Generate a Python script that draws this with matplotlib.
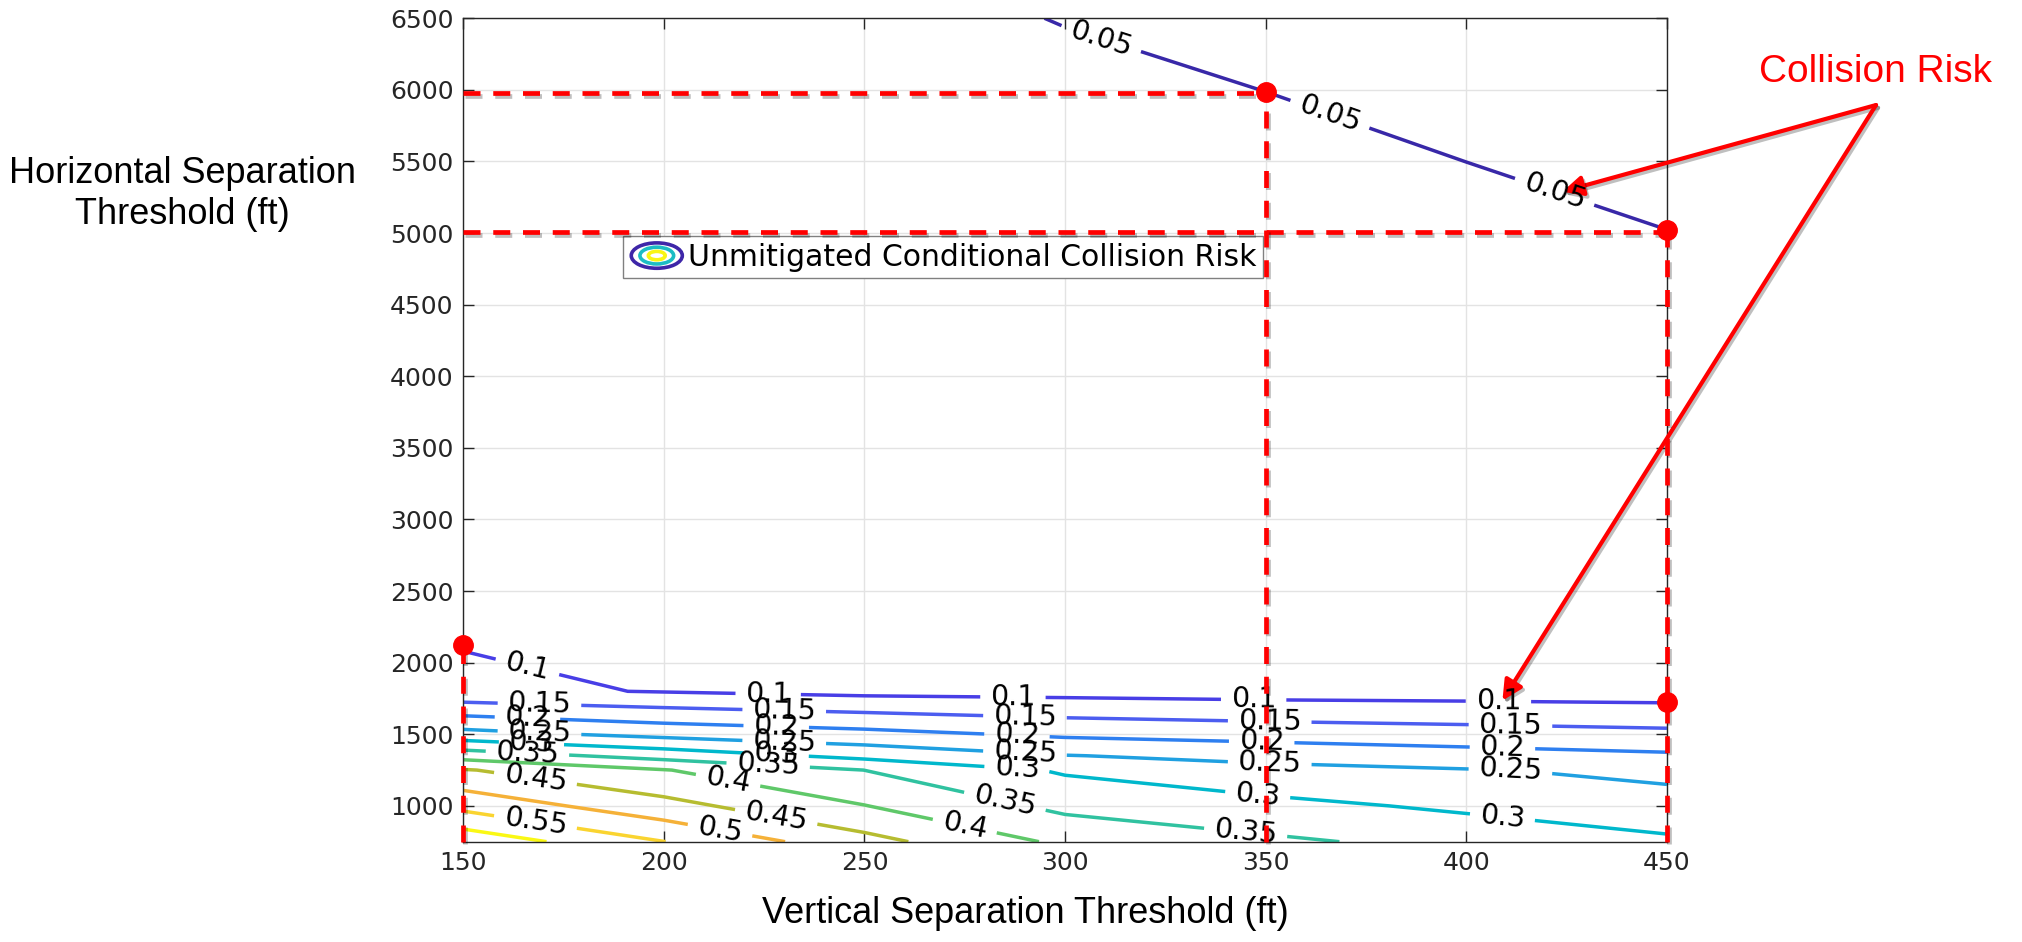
import numpy as np
import matplotlib
matplotlib.use("Agg")
import matplotlib.pyplot as plt
import matplotlib.patheffects as pe
from matplotlib.colors import LinearSegmentedColormap
from matplotlib.legend_handler import HandlerBase
from matplotlib.patches import Ellipse
from matplotlib.lines import Line2D

# vertical separation threshold (ft) - grid columns
vert_sep = np.array([150, 200, 250, 300, 350, 400, 450])
# horizontal separation threshold (ft) - grid rows
horiz_sep = np.array([750, 1000, 1250, 1350, 1500, 1800, 2100, 6500])
# unmitigated conditional collision risk, one row per horiz_sep value
risk = np.array([
    [0.6350, 0.5507, 0.4668, 0.3900, 0.3590, 0.3345, 0.3102],
    [0.5355, 0.4663, 0.4013, 0.3374, 0.3149, 0.2907, 0.2623],
    [0.4535, 0.4021, 0.3497, 0.2937, 0.2626, 0.2526, 0.2418],
    [0.3793, 0.3305, 0.2852, 0.2517, 0.2360, 0.2204, 0.2075],
    [0.2680, 0.2355, 0.2154, 0.1911, 0.1796, 0.1706, 0.1619],
    [0.1100, 0.0978, 0.0865, 0.0843, 0.0803, 0.0792, 0.0774],
    [0.0993, 0.0930, 0.0800, 0.0780, 0.0750, 0.0730, 0.0710],
    [0.0660, 0.0600, 0.0535, 0.0496, 0.0467, 0.0432, 0.0394],
])
levels = [0.05, 0.1, 0.15, 0.2, 0.25, 0.3, 0.35, 0.4, 0.45, 0.5, 0.55, 0.6]

# where the contour labels sit along each line (x in ft)
label_x = {
    0.05: [309, 366, 422],
    0.1: [166, 226, 287, 347, 408],
    0.15: [169, 230, 290, 351, 411],
    0.2: [166, 228, 288, 349, 409],
    0.25: [169, 230, 290, 351, 411],
    0.3: [167, 228, 288, 348, 409],
    0.35: [166, 226, 285, 345],
    0.4: [216, 275],
    0.45: [168, 228],
    0.5: [214],
    0.55: [168],
}

# highlighted operating points and guide lines
point_x = [150, 350, 450, 450]
point_y = [2120, 5985, 5020, 1725]
hline_y = [5975, 5005]
hline_x_end = [350, 450]
vline_x = [150, 350, 450]
vline_y_top = [2120, 5975, 5005]
arrow_x = [424, 409]
arrow_y = [5290, 1735]

parula_like = ['#3828a8', '#483ee6', '#4c5ef0', '#2d80f0', '#20a0e1', '#00b8cc',
               '#30c2a0', '#60c868', '#b4bc30', '#f5b038', '#fad430', '#faf814']
cmap = LinearSegmentedColormap.from_list('parula_like', parula_like)


class ContourIconHandler(HandlerBase):
    def create_artists(self, legend, orig_handle, xdescent, ydescent,
                       width, height, fontsize, trans):
        cx = 0.5 * width - xdescent
        cy = 0.5 * height - ydescent
        out = []
        for s, c in [(1.0, '#3e26a8'), (0.66, '#1cbcc4'), (0.33, '#f9f514')]:
            out.append(Ellipse((cx, cy), width * s * 0.95, height * s * 0.95,
                               fill=False, edgecolor=c, linewidth=2.6,
                               transform=trans))
        return out


fig = plt.figure(figsize=(20.22, 9.42), dpi=100)
ax = fig.add_axes([0.2291, 0.1065, 0.5953, 0.8741])

X, Y = np.meshgrid(vert_sep, horiz_sep)
cs = ax.contour(X, Y, risk, levels=levels, cmap=cmap, vmin=0.05, vmax=0.6,
                linewidths=2.5)

# find the label anchor points on each contour before labels cut the lines
manual_pts = []
for i, lev in enumerate(levels):
    if lev not in label_x:
        continue
    segs = cs.get_paths()[i].to_polygons(closed_only=False)
    for x in label_x[lev]:
        for seg in segs:
            xs, ys = seg[:, 0], seg[:, 1]
            if xs.min() <= x <= xs.max():
                o = np.argsort(xs)
                manual_pts.append((x, float(np.interp(x, xs[o], ys[o]))))
                break

ax.clabel(cs, manual=manual_pts, inline=True, inline_spacing=10,
          fontsize=20.5, colors='k', fmt=lambda v: f'{v:g}')

ax.set_xlim(150, 450)
ax.set_ylim(750, 6500)
ax.set_xticks(np.arange(150, 451, 50))
ax.set_yticks(np.arange(1000, 6501, 500))
ax.grid(True, color='#e3e3e3', linewidth=1.0, zorder=0)
ax.set_axisbelow(True)
ax.tick_params(direction='in', length=8, width=1, color='#262626',
               labelcolor='#262626', labelsize=18, top=True, right=True)
ax.tick_params(axis='x', pad=7)
ax.tick_params(axis='y', pad=7)
for sp in ax.spines.values():
    sp.set_color('#262626')
    sp.set_linewidth(1.0)

ax.set_xlabel('Vertical Separation Threshold (ft)', fontsize=26,
              family='Liberation Sans', va='center')
ax.xaxis.set_label_coords(0.4667, -0.0878)
ax.set_ylabel('Horizontal Separation\nThreshold (ft)', fontsize=26,
              family='Liberation Sans', rotation=0, ha='center', va='center',
              multialignment='center')
ax.yaxis.set_label_coords(-0.2336, 0.7866)

proxy = Line2D([], [])
leg = ax.legend([proxy], ['Unmitigated Conditional Collision Risk'],
                handler_map={proxy: ContourIconHandler()},
                loc='upper left', bbox_to_anchor=(0.133, 0.736),
                borderaxespad=0, fancybox=False, framealpha=1,
                edgecolor='#808080', prop=dict(family='DejaVu Sans', size=21.5),
                handlelength=1.8, handleheight=1.0, handletextpad=0.15,
                borderpad=0.22)
leg.get_frame().set_linewidth(1.0)

shadow = [pe.SimpleLineShadow(offset=(1.5, -2), shadow_color='k', alpha=0.25),
          pe.Normal()]
dash = (0, (3.6, 2.7))
for y, x1 in zip(hline_y, hline_x_end):
    ax.plot([150, x1], [y, y], color='red', lw=3.4, linestyle=dash,
            clip_on=False, zorder=8, path_effects=shadow)
for x, y1 in zip(vline_x, vline_y_top):
    ax.plot([x, x], [750, y1], color='red', lw=3.4, linestyle=dash,
            clip_on=False, zorder=8, path_effects=shadow)
ax.plot(point_x, point_y, 'o', color='red', markersize=14, clip_on=False,
        zorder=9)

fig.text(0.9273, 0.9236, 'Collision Risk', color='red', fontsize=28,
         family='Liberation Sans', ha='center', va='center')
for tx, ty in zip(arrow_x, arrow_y):
    ann = ax.annotate('', xy=(tx, ty), xycoords='data',
                      xytext=(0.9278, 0.8885), textcoords='figure fraction',
                      arrowprops=dict(arrowstyle='-|>,head_length=0.6,head_width=0.3',
                                      color='red', lw=3, shrinkA=0, shrinkB=0,
                                      mutation_scale=20),
                      annotation_clip=False)
    ann.arrow_patch.set_path_effects(shadow)

fig.savefig('out.png', dpi=100, facecolor='white')
